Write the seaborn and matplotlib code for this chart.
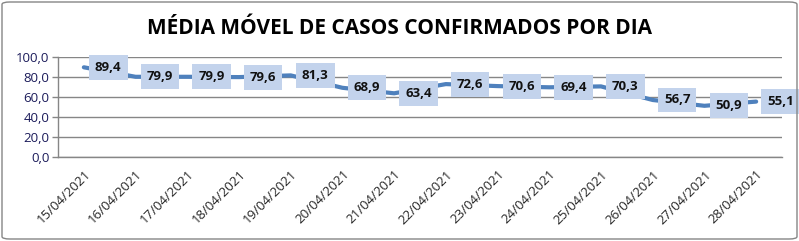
import matplotlib
matplotlib.use("Agg")
import matplotlib.pyplot as plt
import seaborn as sns
import pandas as pd
from matplotlib.patches import FancyBboxPatch
from matplotlib.ticker import FuncFormatter, FixedLocator

title = "MÉDIA MÓVEL DE CASOS CONFIRMADOS POR DIA"
dates = ["15/04/2021", "16/04/2021", "17/04/2021", "18/04/2021", "19/04/2021",
         "20/04/2021", "21/04/2021", "22/04/2021", "23/04/2021", "24/04/2021",
         "25/04/2021", "26/04/2021", "27/04/2021", "28/04/2021"]
values = [89.4, 79.9, 79.9, 79.6, 81.3, 68.9, 63.4, 72.6, 70.6, 69.4, 70.3, 56.7, 50.9, 55.1]
y_ticks = [0, 20, 40, 60, 80, 100]

sns.set_theme(style="white")
plt.rcParams['font.family'] = ['Open Sans', 'DejaVu Sans']

df = pd.DataFrame({"pos": range(len(dates)), "date": dates, "value": values})

fig = plt.figure(figsize=(7.99, 2.41), dpi=100)
ax = fig.add_axes([58/799, 1 - 156.7/241, (782-58)/799, 100/241])

sns.lineplot(data=df, x="pos", y="value", ax=ax, color="#4f81bd", linewidth=3,
             solid_capstyle="round", solid_joinstyle="round")

ax.set_xlim(-0.5, len(dates) - 0.5)
ax.set_ylim(0, 100)
ax.set_yticks(y_ticks)
ax.yaxis.set_major_formatter(FuncFormatter(lambda v, p: f"{v:.1f}".replace(".", ",")))
ax.set_xticks(range(len(dates)))
ax.set_xticklabels(dates, rotation=45, ha="right", rotation_mode="anchor", fontsize=9.5, color="#262626")
ax.xaxis.set_minor_locator(FixedLocator([i - 0.5 for i in range(len(dates) + 1)]))
ax.tick_params(axis="x", which="major", length=0, pad=8)
ax.tick_params(axis="x", which="minor", length=5, color="#868686", width=1, direction="out")
ax.tick_params(axis="y", length=4, color="#868686", width=1, labelsize=9.5, labelcolor="#1b1b5a", pad=2, left=True)
ax.grid(axis="y", color="#868686", linewidth=1)
ax.set_xlabel("")
ax.set_ylabel("")
for s in ["top", "right"]:
    ax.spines[s].set_visible(False)
for s in ["left", "bottom"]:
    ax.spines[s].set_color("#868686")
    ax.spines[s].set_linewidth(1)

for i, v in enumerate(values):
    ax.annotate(f"{v:.1f}".replace(".", ","), (i, v), xytext=(8, 0), textcoords="offset points",
                ha="left", va="center", fontsize=9.5, fontweight="bold", color="#111111",
                bbox=dict(boxstyle="square,pad=0.45", facecolor="#c3d3ec", edgecolor="none"))

fig.text(0.5, 1 - 28/241, title, ha="center", va="center", fontsize=15, fontweight="bold", color="#000000")

border = FancyBboxPatch((2/799, 2/241), 795/799, 237/241, boxstyle="round,pad=0,rounding_size=0.01",
                        transform=fig.transFigure, facecolor="none", edgecolor="#868686", linewidth=1)
fig.patches.append(border)

fig.savefig("out.png", dpi=100)
